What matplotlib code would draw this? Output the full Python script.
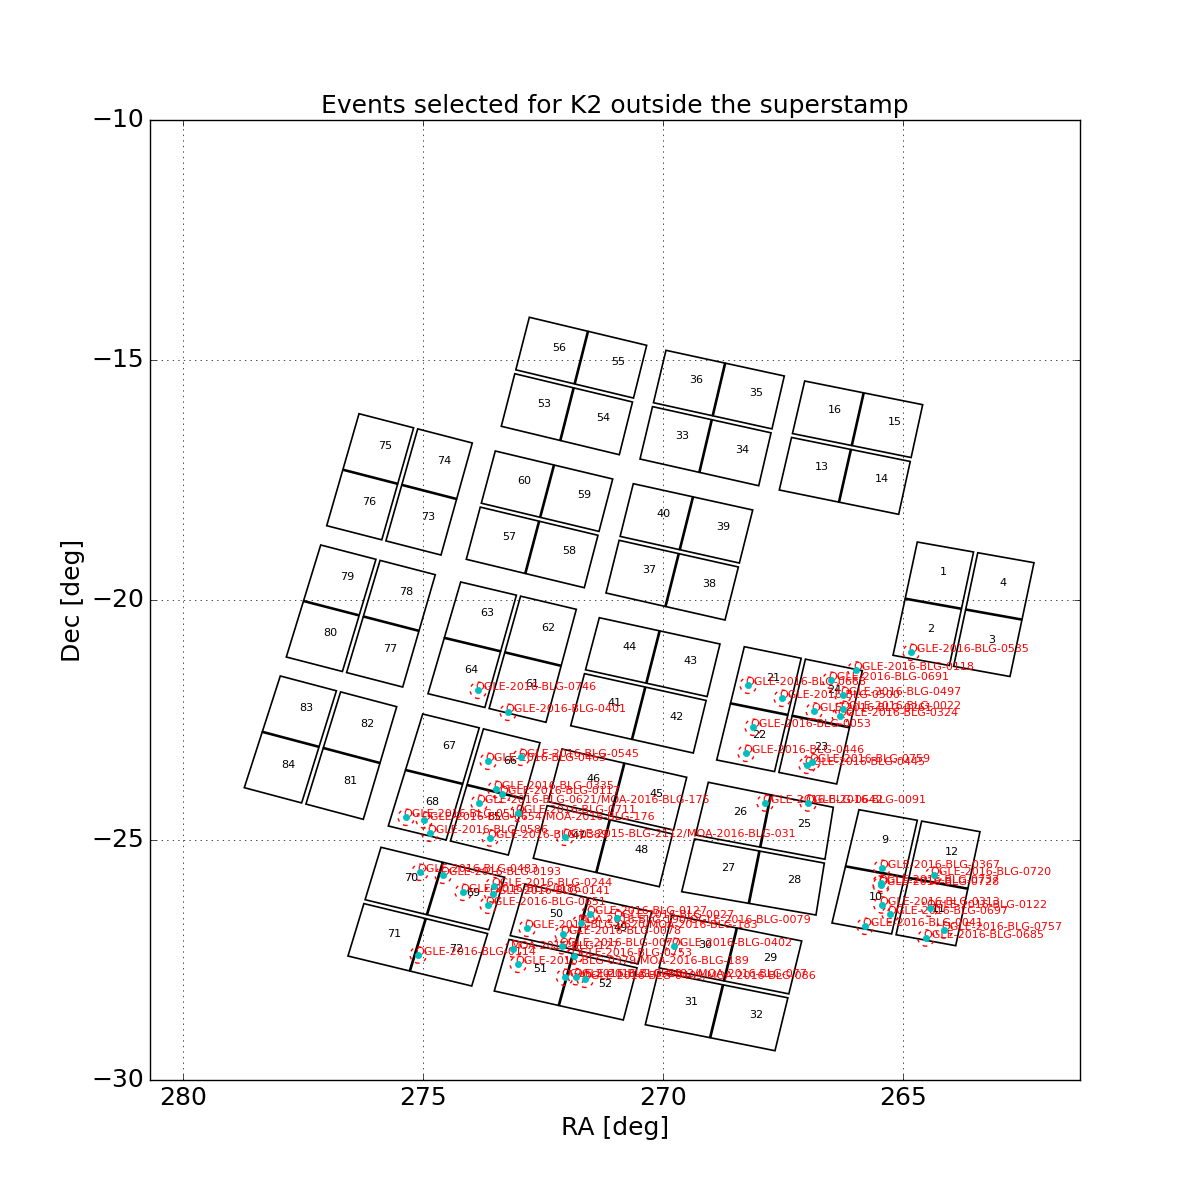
import numpy as np
import matplotlib
matplotlib.use('Agg')
import matplotlib.pyplot as plt
from matplotlib.patches import Polygon, Circle

plt.style.use('classic')
matplotlib.rcParams.update({'font.size': 18})

# K2 C9 modules: channels at (top-left, top-right, bottom-right, bottom-left) on the plot
module_channels = [
    [75, 74, 73, 76], [56, 55, 54, 53], [36, 35, 34, 33], [60, 59, 58, 57],
    [40, 39, 38, 37], [16, 15, 14, 13], [1, 4, 3, 2], [79, 78, 77, 80],
    [83, 82, 81, 84], [63, 62, 61, 64], [44, 43, 42, 41], [67, 66, 65, 68],
    [46, 45, 48, 47], [70, 69, 72, 71], [50, 49, 52, 51], [30, 29, 32, 31],
    [26, 25, 28, 27], [9, 12, 11, 10], [21, 24, 23, 22],
]
# which way the two channel pairs are split ('v' = side by side, 'h' = one above other)
module_gap = ['v', 'h', 'h', 'h', 'h', 'h', 'v', 'v', 'v', 'v', 'h', 'v',
              'h', 'h', 'h', 'h', 'h', 'v', 'v']
# module corner RA (TL, TR, BR, BL)
module_ra = [
    [276.333, 273.973, 274.625, 277.006],
    [272.785, 270.340, 270.910, 273.369],
    [269.938, 267.473, 268.006, 270.479],
    [273.494, 271.048, 271.640, 274.098],
    [270.619, 268.131, 268.708, 271.188],
    [267.048, 264.590, 265.090, 267.577],
    [264.702, 262.271, 262.771, 265.208],
    [277.131, 274.744, 275.423, 277.848],
    [277.973, 275.548, 276.244, 278.723],
    [274.215, 271.806, 272.438, 274.896],
    [271.327, 268.813, 269.369, 271.923],
    [275.006, 272.563, 273.223, 275.723],
    [272.104, 269.506, 270.077, 272.702],
    [275.875, 273.298, 273.985, 276.563],
    [272.875, 270.235, 270.827, 273.515],
    [269.813, 267.110, 267.667, 270.369],
    [269.056, 266.452, 266.813, 269.610],
    [265.917, 263.396, 263.902, 266.479],
    [268.306, 265.848, 266.381, 268.881],
]
# module corner Dec (TL, TR, BR, BL)
module_dec = [
    [-16.119, -16.729, -19.063, -18.452],
    [-14.110, -14.694, -16.973, -16.381],
    [-14.798, -15.333, -17.619, -17.063],
    [-16.896, -17.479, -19.744, -19.152],
    [-17.577, -18.125, -20.417, -19.854],
    [-15.438, -15.931, -18.215, -17.708],
    [-18.792, -19.223, -21.594, -21.152],
    [-18.854, -19.473, -21.813, -21.188],
    [-21.583, -22.223, -24.569, -23.910],
    [-19.625, -20.194, -22.548, -21.952],
    [-20.369, -20.917, -23.188, -22.619],
    [-22.375, -22.973, -25.313, -24.708],
    [-23.104, -23.694, -25.973, -25.381],
    [-25.152, -25.777, -28.042, -27.417],
    [-25.917, -26.494, -28.750, -28.146],
    [-26.563, -27.104, -29.390, -28.848],
    [-23.798, -24.319, -26.563, -26.077],
    [-24.369, -24.827, -27.202, -26.729],
    [-20.973, -21.473, -23.833, -23.333],
]

# selected events
ev_names = [
    'OGLE-2016-BLG-0535', 'OGLE-2016-BLG-0118', 'OGLE-2016-BLG-0691',
    'OGLE-2016-BLG-0668', 'OGLE-2016-BLG-0497', 'OGLE-2016-BLG-0500',
    'OGLE-2016-BLG-0022', 'OGLE-2016-BLG-0261', 'OGLE-2016-BLG-0324',
    'OGLE-2016-BLG-0053', 'OGLE-2016-BLG-0446', 'OGLE-2016-BLG-0759',
    'OGLE-2016-BLG-0445', 'OGLE-2016-BLG-0642', 'OGLE-2016-BLG-0091',
    'OGLE-2016-BLG-0367', 'OGLE-2016-BLG-0720', 'OGLE-2016-BLG-0737',
    'OGLE-2016-BLG-0728', 'OGLE-2016-BLG-0313', 'OGLE-2016-BLG-0122',
    'OGLE-2016-BLG-0697', 'OGLE-2016-BLG-0041', 'OGLE-2016-BLG-0757',
    'OGLE-2016-BLG-0685', 'OGLE-2016-BLG-0746', 'OGLE-2016-BLG-0401',
    'OGLE-2016-BLG-0545', 'OGLE-2016-BLG-0463', 'OGLE-2016-BLG-0335',
    'OGLE-2016-BLG-0117', 'OGLE-2016-BLG-0621/MOA-2016-BLG-175',
    'OGLE-2016-BLG-0711', 'OGLE-2016-BLG-0519',
    'OGLE-2016-BLG-0654/MOA-2016-BLG-176', 'OGLE-2016-BLG-0586',
    'OGLE-2016-BLG-0389', 'OGLE-2015-BLG-2112/MOA-2016-BLG-031',
    'OGLE-2016-BLG-0483', 'OGLE-2016-BLG-0193', 'OGLE-2016-BLG-0244',
    'OGLE-2016-BLG-0186', 'OGLE-2016-BLG-0141', 'OGLE-2016-BLG-0651',
    'OGLE-2016-BLG-0620/MOA-2016-BLG-183', 'OGLE-2016-BLG-0078',
    'OGLE-2016-BLG-0127', 'MOA-2016-BLG-190/OGLE-2016-BLG-0079',
    'OGLE-2016-BLG-0027', 'MOA-2016-BLG-127', 'OGLE-2016-BLG-0077',
    'OGLE-2016-BLG-0402', 'OGLE-2016-BLG-0753',
    'OGLE-2016-BLG-0379/MOA-2016-BLG-189', 'OGLE-2016-BLG-0583',
    'OGLE-2016-BLG-0482/MOA-2016-BLG-077', 'OGLE-2016-BLG-0409/MOA-2016-BLG-086',
    'OGLE-2016-BLG-0114',
]
ev_ra = [
    264.827, 265.979, 266.500, 268.223, 266.250, 267.515, 266.244, 266.848,
    266.306, 268.119, 268.265, 266.896, 266.994, 267.869, 266.973, 265.438,
    264.360, 265.458, 265.452, 265.438, 264.444, 265.265, 265.785, 264.140,
    264.521, 273.848, 273.223, 272.952, 273.640, 273.479, 273.348, 273.827,
    273.015, 275.348, 274.973, 274.854, 273.598, 272.042, 275.063, 274.577,
    273.521, 274.160, 273.548, 273.640, 272.827, 272.077, 271.527, 271.715,
    270.965, 273.119, 272.098, 269.765, 271.848, 273.015, 272.048, 271.806,
    271.619, 275.098,
]
ev_dec = [
    -21.090, -21.458, -21.673, -21.777, -21.979, -22.048, -22.277, -22.313,
    -22.417, -22.652, -23.194, -23.369, -23.444, -24.229, -24.229, -25.590,
    -25.735, -25.902, -25.944, -26.354, -26.423, -26.548, -26.798, -26.875,
    -27.042, -21.881, -22.340, -23.277, -23.360, -23.944, -24.048, -24.235,
    -24.444, -24.527, -24.583, -24.860, -24.958, -24.944, -25.673, -25.735,
    -25.952, -26.090, -26.125, -26.360, -26.840, -26.965, -26.548, -26.735,
    -26.619, -27.271, -27.202, -27.215, -27.417, -27.590, -27.860, -27.848,
    -27.902, -27.396,
]


def corner(c, u, v):
    # point inside the module quadrilateral c = [TL, TR, BR, BL]
    return ((1 - u) * (1 - v) * c[0] + u * (1 - v) * c[1]
            + u * v * c[2] + (1 - u) * v * c[3])


gap = 0.018     # half gap between the two channel pairs
seam = 0.004    # tiny offset on the shared edge

fig = plt.figure(figsize=(12, 12), dpi=100, facecolor='w')
ax = fig.add_subplot(111)

for chans, ras, decs, gdir in zip(module_channels, module_ra, module_dec, module_gap):
    c = np.column_stack([ras, decs])
    if gdir == 'v':
        us = [(0, 0.5 - gap), (0.5 + gap, 1)]
        vs = [(0, 0.5 - seam), (0.5 + seam, 1)]
    else:
        us = [(0, 0.5 - seam), (0.5 + seam, 1)]
        vs = [(0, 0.5 - gap), (0.5 + gap, 1)]
    cells = [(0, 0), (1, 0), (1, 1), (0, 1)]
    for ch, (iu, iv) in zip(chans, cells):
        u0, u1 = us[iu]
        v0, v1 = vs[iv]
        pts = np.array([corner(c, u0, v0), corner(c, u1, v0),
                        corner(c, u1, v1), corner(c, u0, v1)])
        ax.add_patch(Polygon(pts, closed=True, fill=False, ec='k', lw=1.2))
        cen = pts.mean(axis=0)
        ax.text(cen[0], cen[1], str(ch), fontsize=8, color='k')

for name, ra, dec in zip(ev_names, ev_ra, ev_dec):
    ax.add_patch(Circle((ra, dec), 0.17, fill=False, ec='r',
                        ls=(0, (2.5, 3.5)), lw=1.0))
    ax.text(ra + 0.06, dec, name, color='r', fontsize=8)
ax.plot(ev_ra, ev_dec, 'o', color='c', mec='c', ms=4.5, zorder=4)

ax.set_xlim(280.6875, 261.3125)
ax.set_ylim(-30, -10)
ax.set_xticks([280, 275, 270, 265])
ax.set_yticks([-30, -25, -20, -15, -10])
ax.grid(True)
ax.set_xlabel('RA [deg]', fontsize=18)
ax.set_ylabel('Dec [deg]', fontsize=18)
ax.set_title('Events selected for K2 outside the superstamp', fontsize=18)

fig.savefig('out.png', dpi=100, facecolor='w')
